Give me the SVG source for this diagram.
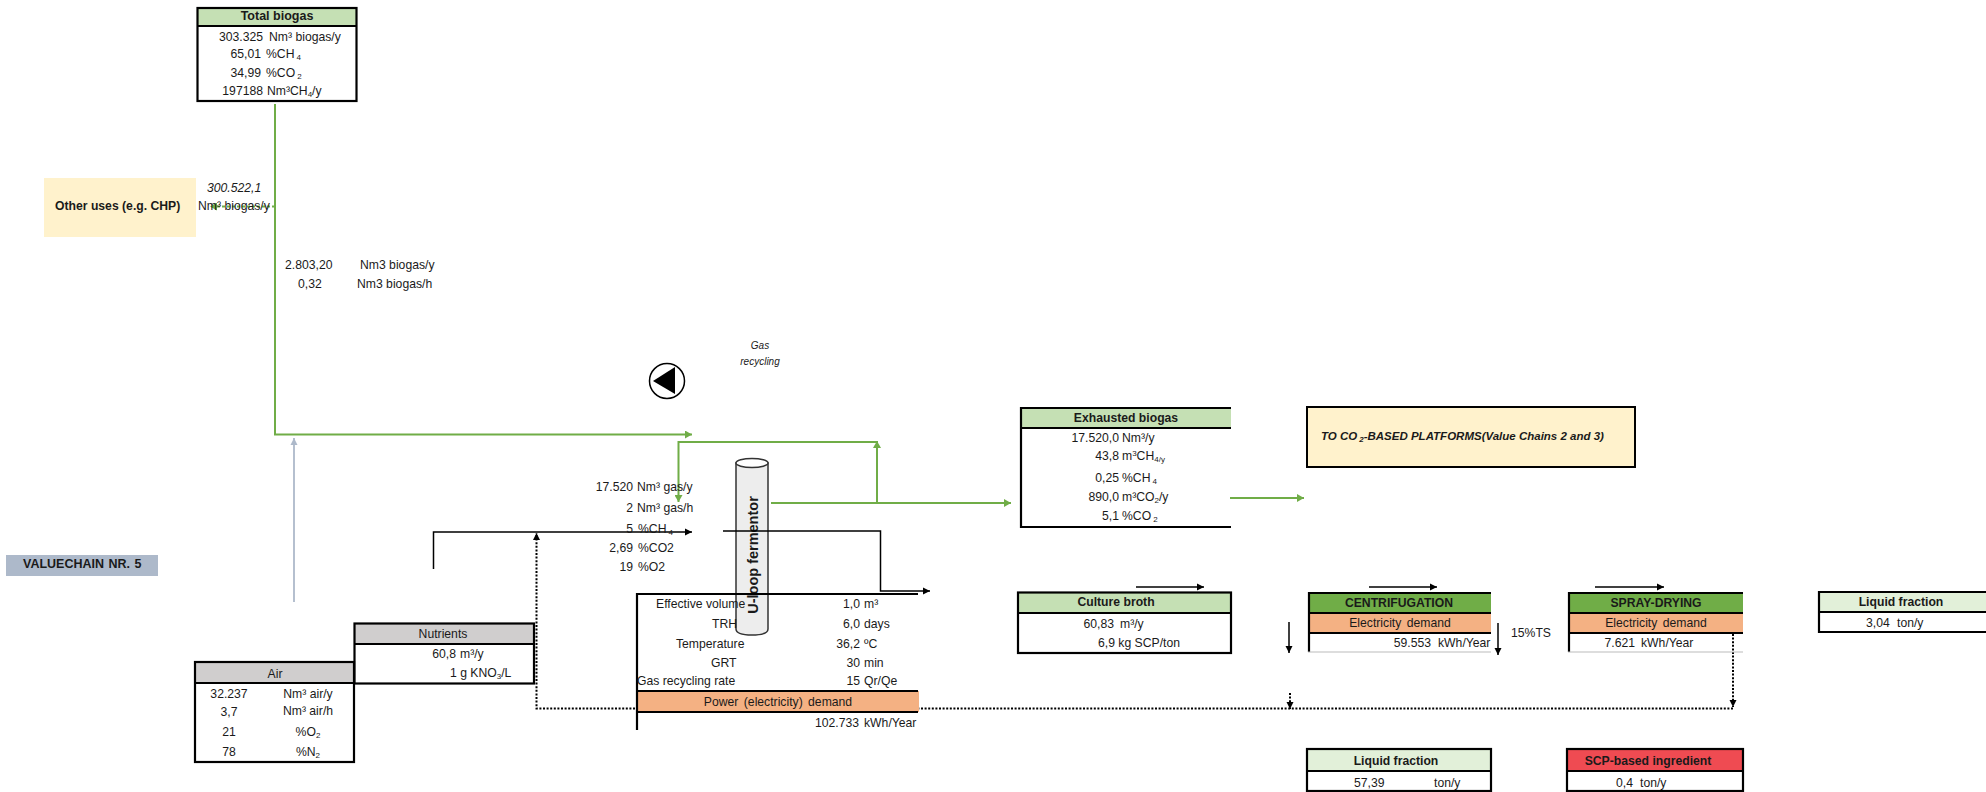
<svg xmlns="http://www.w3.org/2000/svg" width="1986" height="792" viewBox="0 0 1986 792">
<style>
text{font-family:"Liberation Sans",Arial,sans-serif;font-size:12.2px;fill:#1a1a1a}
.b{font-weight:bold}.i{font-style:italic}.e{text-anchor:end}.m{text-anchor:middle}
.s{font-size:8px}
.k{fill:none;stroke:#000;stroke-width:2.2}
.t{fill:none;stroke:#000;stroke-width:1.5}
.g{fill:none;stroke:#70AD47;stroke-width:2}
.d{fill:none;stroke:#000;stroke-width:2;stroke-dasharray:2 1.6}
</style>
<defs>
<marker id="ag" markerUnits="userSpaceOnUse" markerWidth="8" markerHeight="8" refX="7" refY="4" orient="auto"><path d="M0 0L7 4L0 8Z" fill="#70AD47"/></marker>
<marker id="ab" markerUnits="userSpaceOnUse" markerWidth="8" markerHeight="8" refX="7" refY="4" orient="auto"><path d="M0 0.5L7 4L0 7.5Z" fill="#000"/></marker>
<marker id="al" markerUnits="userSpaceOnUse" markerWidth="8" markerHeight="8" refX="7" refY="4" orient="auto"><path d="M0 0.5L7 4L0 7.5Z" fill="#ADB9CA"/></marker>
</defs>

<g id="connectors">
<path class="d" marker-end="url(#ab)" d="M1733 708.500H536.500V533"/>
<path class="d" marker-end="url(#ab)" d="M1733 634V707"/>
<path class="d" marker-end="url(#ab)" d="M1290 693V709"/>
<path class="g" marker-end="url(#ag)" d="M275 104V434.500H692"/>
<path class="g" stroke-dasharray="3 2" marker-end="url(#ag)" d="M275 206.500H210"/>
<path d="M294 602V438" fill="none" stroke="#ADB9CA" stroke-width="1.800" marker-end="url(#al)"/>
<path class="g" marker-end="url(#ag)" d="M771 503H1011"/>
<path class="g" marker-end="url(#ag)" d="M877 503V441"/>
<path class="g" marker-end="url(#ag)" d="M877 442H678.500V502"/>
<path class="g" marker-end="url(#ag)" d="M1230 498H1304"/>
<path class="t" marker-end="url(#ab)" d="M433.500 569V532H692"/>
<path class="t" marker-end="url(#ab)" d="M1136 587H1204"/>
<path class="t" marker-end="url(#ab)" d="M1369 587H1437"/>
<path class="t" marker-end="url(#ab)" d="M1595 587H1664"/>
<path class="t" marker-end="url(#ab)" d="M1289 622V653"/>
<path class="t" marker-end="url(#ab)" d="M1498 623V655"/>
</g>

<g id="total-biogas">
<rect x="197" y="8" width="160" height="18" fill="#C5E0B4"/>
<rect x="197.500" y="8" width="159" height="93" class="k"/>
<path class="k" d="M197 26H357"/>
<text x="277" y="20" class="b m" style="font-size:12.500px">Total biogas</text>
<text x="263" y="41" class="e">303.325</text><text x="269" y="41">Nm³ biogas/y</text>
<text x="261" y="58" class="e">65,01</text><text x="266" y="58">%CH<tspan class="s" dx="2" dy="2">4</tspan></text>
<text x="261" y="77" class="e">34,99</text><text x="266" y="77">%CO<tspan class="s" dx="2" dy="2">2</tspan></text>
<text x="263" y="95" class="e">197188</text><text x="267" y="95">Nm³CH<tspan class="s" dy="2">4</tspan><tspan dy="-2">/y</tspan></text>
</g>

<g id="other-uses">
<rect x="44" y="178" width="152" height="59" fill="#FFF2CC"/>
<text x="55" y="210" class="b">Other uses (e.g. CHP)</text>
<text x="207" y="192" class="i">300.522,1</text>
<text x="198" y="210">Nm³ biogas/y</text>
</g>

<g id="biogas-flow">
<text x="285" y="269">2.803,20</text><text x="360" y="269">Nm3 biogas/y</text>
<text x="298" y="288">0,32</text><text x="357" y="288">Nm3 biogas/h</text>
</g>

<g id="gas-recycling">
<text x="760" y="349" class="i m" style="font-size:10px">Gas</text>
<text x="760" y="365" class="i m" style="font-size:10px">recycling</text>
<circle cx="667" cy="381" r="17.500" fill="#fff" stroke="#000" stroke-width="1.500"/>
<path d="M653 381L675 367V394Z" fill="#000"/>
</g>

<g id="valuechain">
<rect x="6" y="555" width="152" height="21" fill="#ADB9CA"/>
<text x="23" y="568" class="b" style="font-size:12.500px;word-spacing:1px">VALUECHAIN NR. 5</text>
</g>

<g id="air">
<rect x="195" y="662" width="159" height="21" fill="#D0CECE"/>
<rect x="195" y="662" width="159" height="100" class="k"/>
<path class="k" d="M195 683H354"/>
<text x="275" y="678" class="m">Air</text>
<text x="229" y="698" class="m">32.237</text><text x="308" y="698" class="m">Nm³ air/y</text>
<text x="229" y="716" class="m">3,7</text><text x="308" y="715" class="m">Nm³ air/h</text>
<text x="229" y="736" class="m">21</text><text x="308" y="736" class="m">%O<tspan class="s" dy="2">2</tspan></text>
<text x="229" y="756" class="m">78</text><text x="308" y="756" class="m">%N<tspan class="s" dy="2">2</tspan></text>
</g>

<g id="nutrients">
<rect x="354" y="623" width="180" height="21" fill="#D0CECE"/>
<rect x="354.500" y="623.500" width="179.500" height="60" class="k"/>
<path class="k" d="M354 644H534"/>
<text x="443" y="638" class="m">Nutrients</text>
<text x="456" y="658" class="e">60,8</text><text x="460" y="658">m³/y</text>
<text x="450" y="677">1 g KNO<tspan class="s" dy="2">3</tspan><tspan dy="-2">/L</tspan></text>
</g>

<g id="gas-stats">
<text x="633" y="491" class="e">17.520</text><text x="637" y="491">Nm³ gas/y</text>
<text x="633" y="512" class="e">2</text><text x="637" y="512">Nm³ gas/h</text>
<text x="633" y="533" class="e">5</text><text x="638" y="533">%CH<tspan class="s" dx="2" dy="2">4</tspan></text>
<text x="633" y="552" class="e">2,69</text><text x="638" y="552">%CO2</text>
<text x="633" y="571" class="e">19</text><text x="638" y="571">%O2</text>
</g>

<g id="fermentor">
<path d="M736 463V629Q736 635 752 635Q768 635 768 629V463Z" fill="#EDEDED" stroke="#333" stroke-width="1.500"/>
<ellipse cx="752" cy="463" rx="16" ry="4.500" fill="#fff" stroke="#333" stroke-width="1.500"/>
<text transform="translate(758 555) rotate(-90)" class="b m" style="font-size:14.500px">U-loop fermentor</text>
<path class="t" marker-end="url(#ab)" d="M723 531H880.500V591H930"/>
</g>

<g id="fermentor-table">
<rect x="637" y="691" width="282" height="21" fill="#F4B183"/>
<path class="k" d="M637 730V594H918M637 691H918M637 712H918"/>
<text x="656" y="608">Effective volume</text><text x="860" y="608" class="e">1,0</text><text x="864" y="608">m³</text>
<text x="712" y="628">TRH</text><text x="860" y="628" class="e">6,0</text><text x="864" y="628">days</text>
<text x="676" y="648">Temperature</text><text x="860" y="648" class="e">36,2</text><text x="864" y="648">ºC</text>
<text x="711" y="667">GRT</text><text x="860" y="667" class="e">30</text><text x="864" y="667">min</text>
<text x="637" y="685">Gas recycling rate</text><text x="860" y="685" class="e">15</text><text x="864" y="685">Qr/Qe</text>
<text x="778" y="706" class="m" style="word-spacing:2px">Power (electricity) demand</text>
<text x="859" y="727" class="e">102.733</text><text x="864" y="727">kWh/Year</text>
</g>

<g id="exhausted-biogas">
<rect x="1020" y="407" width="211" height="21" fill="#C5E0B4"/>
<path class="k" d="M1231 408H1021V527H1231M1021 428H1231"/>
<text x="1126" y="422" class="b m">Exhausted biogas</text>
<text x="1119" y="442" class="e">17.520,0</text><text x="1122" y="442">Nm³/y</text>
<text x="1119" y="460" class="e">43,8</text><text x="1122" y="460">m<tspan class="s" dy="-4">3</tspan><tspan dy="4">CH</tspan><tspan class="s" dy="2">4/y</tspan></text>
<text x="1119" y="482" class="e">0,25</text><text x="1122" y="482">%CH<tspan class="s" dx="2" dy="2">4</tspan></text>
<text x="1119" y="501" class="e">890,0</text><text x="1122" y="501">m³CO<tspan class="s" dy="2">2</tspan><tspan dy="-2">/y</tspan></text>
<text x="1119" y="520" class="e">5,1</text><text x="1122" y="520">%CO<tspan class="s" dx="2" dy="2">2</tspan></text>
</g>

<g id="platforms">
<rect x="1307" y="407" width="328" height="60" fill="#FFF2CC" stroke="#000" stroke-width="2"/>
<text x="1321" y="440" class="b i" style="font-size:11.500px">TO CO<tspan class="s" dx="2" dy="2">2</tspan><tspan dy="-2">-BASED PLATFORMS(Value Chains 2 and 3)</tspan></text>
</g>

<g id="culture-broth">
<rect x="1018" y="592" width="213" height="21" fill="#C5E0B4"/>
<rect x="1018" y="592.500" width="213" height="60.500" class="k"/>
<path class="k" d="M1018 613H1231"/>
<text x="1116" y="606" class="b m">Culture broth</text>
<text x="1114" y="628" class="e">60,83</text><text x="1120" y="628">m³/y</text>
<text x="1098" y="647">6,9 kg SCP/ton</text>
</g>

<g id="centrifugation">
<rect x="1309" y="593" width="182" height="20" fill="#70AD47"/>
<rect x="1309" y="613" width="182" height="20" fill="#F4B183"/>
<path class="k" d="M1491 593H1309V652M1309 613H1491M1309 633H1491"/>
<path d="M1308 652H1491" stroke="#bbb" stroke-width="1" fill="none"/>
<text x="1399" y="607" class="b m">CENTRIFUGATION</text>
<text x="1400" y="627" class="m" style="word-spacing:2px">Electricity demand</text>
<text x="1431" y="647" class="e">59.553</text><text x="1438" y="647">kWh/Year</text>
<text x="1511" y="637">15%TS</text>
</g>

<g id="spray-drying">
<rect x="1569" y="593" width="174" height="20" fill="#70AD47"/>
<rect x="1569" y="613" width="174" height="20" fill="#F4B183"/>
<path class="k" d="M1743 593H1569V652M1569 613H1743M1569 633H1743"/>
<path d="M1568 652H1743" stroke="#bbb" stroke-width="1" fill="none"/>
<text x="1656" y="607" class="b m">SPRAY-DRYING</text>
<text x="1656" y="627" class="m" style="word-spacing:2px">Electricity demand</text>
<text x="1635" y="647" class="e">7.621</text><text x="1641" y="647">kWh/Year</text>
</g>

<g id="liquid-fraction-right">
<rect x="1819" y="592" width="180" height="20" fill="#E2F0D9"/>
<path class="k" d="M1986 592H1819V632H1986M1819 612H1986"/>
<text x="1901" y="606" class="b m">Liquid fraction</text>
<text x="1866" y="627">3,04</text><text x="1897" y="627">ton/y</text>
</g>

<g id="liquid-fraction">
<rect x="1307" y="749" width="184" height="22" fill="#E2F0D9"/>
<rect x="1307" y="749" width="184" height="42" class="k"/>
<path class="k" d="M1307 771H1491"/>
<text x="1396" y="765" class="b m">Liquid fraction</text>
<text x="1354" y="787">57,39</text><text x="1434" y="787">ton/y</text>
</g>

<g id="scp-ingredient">
<rect x="1567" y="749" width="176" height="22" fill="#EF4B52"/>
<rect x="1567" y="749" width="176" height="42" class="k"/>
<path class="k" d="M1567 771H1743"/>
<text x="1648" y="765" class="b m">SCP-based ingredient</text>
<text x="1616" y="787">0,4</text><text x="1640" y="787">ton/y</text>
</g>
</svg>
